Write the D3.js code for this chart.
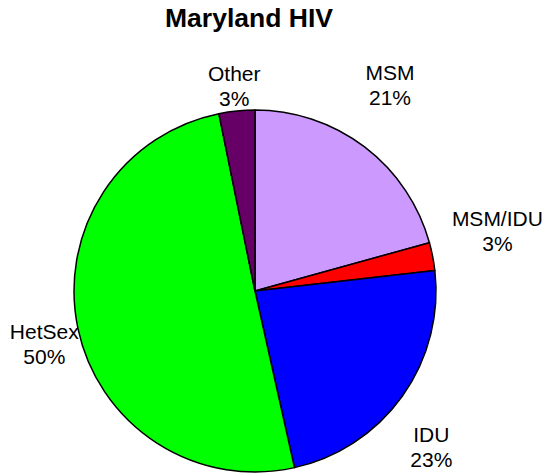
<!DOCTYPE html>
<html>
<head>
<meta charset="utf-8">
<script src="https://cdn.jsdelivr.net/npm/d3@7"></script>
<style>
  body { margin: 0; background: #fff; }
  text { font-family: "Liberation Sans", Arial, sans-serif; fill: #000; }
</style>
</head>
<body>
<svg class="chart" width="546" height="476"></svg>
<script>
(function() {
  'use strict';

var categories = ['MSM', 'MSM/IDU', 'IDU', 'HetSex', 'Other'];
var values = [20.7, 2.5, 23.3, 50.3, 3.2];
var colors = ['#cc99ff', '#ff0000', '#0000ff', '#00ff00', '#660066'];

// label placement: radius factor and angle nudge (degrees)
var labelR = [1.36, 1.38, 1.30, 1.20, 1.14];
var labelNudge = [-4, -3, 6, -2, 0];

var width = 546,
    height = 476,
    cx = 255,
    cy = 291,
    radius = 181;

var data = categories.map(function(c, i) {
  return { name: c, value: values[i], color: colors[i], lr: labelR[i], nudge: labelNudge[i] };
});

var svg = d3.select('.chart')
    .attr('width', width)
    .attr('height', height);

svg.append('text')
    .attr('x', 249)
    .attr('y', 27)
    .attr('text-anchor', 'middle')
    .style('font-size', '26.5px')
    .style('font-weight', 'bold')
    .text('Maryland HIV');

var pie = d3.pie()
    .sort(null)
    .value(function(d) { return d.value; });

var arc = d3.arc()
    .innerRadius(0)
    .outerRadius(radius);

var g = svg.append('g')
    .attr('transform', 'translate(' + cx + ',' + cy + ')');

var arcs = pie(data);

g.selectAll('path')
    .data(arcs)
  .enter().append('path')
    .attr('d', arc)
    .attr('fill', function(d) { return d.data.color; })
    .attr('stroke', '#000')
    .attr('stroke-width', 1.5)
    .attr('stroke-linejoin', 'round');

var total = d3.sum(values);

var label = g.selectAll('.label')
    .data(arcs)
  .enter().append('text')
    .attr('class', 'label')
    .attr('text-anchor', 'middle')
    .style('font-size', '21px')
    .attr('transform', function(d) {
      var a = (d.startAngle + d.endAngle) / 2 + d.data.nudge * Math.PI / 180;
      var rr = radius * d.data.lr;
      return 'translate(' + (rr * Math.sin(a)) + ',' + (-rr * Math.cos(a)) + ')';
    });

label.append('tspan')
    .attr('x', 0)
    .attr('y', -5)
    .text(function(d) { return d.data.name; });

label.append('tspan')
    .attr('x', 0)
    .attr('y', 20)
    .text(function(d) { return Math.round(d.data.value / total * 100) + '%'; });
}());
</script>
</body>
</html>
